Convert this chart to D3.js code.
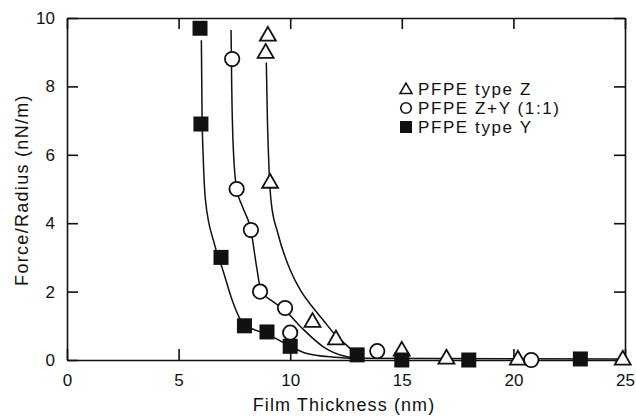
<!DOCTYPE html>
<html>
<head>
  <meta charset="utf-8">
  <title>Force/Radius vs Film Thickness</title>
  <script src="https://d3js.org/d3.v7.min.js"></script>
  <style>
    body { margin: 0; background: #fff; }
    text { font-family: "Liberation Sans", Arial, Helvetica, sans-serif; fill: #111; }
  </style>
</head>
<body>
  <div id="chart"></div>

  <script>
    // ticks
    var xTicks = [0, 5, 10, 15, 20, 25];
    var yTicks = [0, 2, 4, 6, 8, 10];

    // legend names
    var seriesNames = ['PFPE type Z', 'PFPE Z+Y (1:1)', 'PFPE type Y'];

    // measured points [thickness nm, force/radius nN/m]
    var typeZ = [[9.0, 9.5], [8.9, 9.0], [9.1, 5.2], [11.0, 1.13], [12.05, 0.62],
                 [15.0, 0.29], [17.0, 0.06], [20.2, 0.03], [24.9, 0.03]];
    var typeZY = [[7.4, 8.8], [7.6, 5.0], [8.24, 3.8], [8.65, 2.0], [9.77, 1.52],
                  [10.0, 0.8], [13.9, 0.26], [20.8, 0.0]];
    var typeY = [[5.96, 9.7], [6.0, 6.9], [6.9, 3.0], [7.95, 1.0], [8.96, 0.82],
                 [10.0, 0.4], [13.0, 0.15], [15.0, 0.0], [18.0, 0.0], [23.0, 0.03]];

    // hand-drawn fit lines
    var fitZ = [[8.93, 8.7], [8.98, 7.0], [9.05, 5.6], [9.15, 4.6], [9.45, 3.7], [10.0, 2.63],
                [10.45, 2.05], [11.0, 1.55], [11.5, 1.15], [12.0, 0.75], [12.5, 0.45], [13.0, 0.15]];
    var fitZY = [[7.35, 9.65], [7.38, 8.0], [7.45, 6.2], [7.6, 5.0], [7.85, 4.5], [8.24, 3.8],
                 [8.5, 2.7], [8.7, 2.0], [9.2, 1.72], [9.77, 1.45], [10.5, 0.95], [11.5, 0.38],
                 [12.5, 0.1], [13.0, 0.05]];
    var fitY = [[6.02, 9.35], [6.05, 7.2], [6.1, 6.0], [6.2, 4.7], [6.6, 3.4], [6.95, 2.7],
                [7.4, 1.75], [7.8, 1.15], [8.2, 0.95], [9.0, 0.75], [10.0, 0.4], [10.7, 0.2],
                [12.0, 0.08], [13.0, 0.04]];
    var tail = [[13.0, 0.05], [25.0, 0.03]];

    var width = 636, height = 418;
    var margin = { top: 18, right: 11, bottom: 58, left: 67 };
    var w = width - margin.left - margin.right;
    var h = height - margin.top - margin.bottom;

    var svg = d3.select('#chart').append('svg')
      .attr('width', width)
      .attr('height', height);

    var g = svg.append('g')
      .attr('transform', 'translate(' + margin.left + ',' + margin.top + ')');

    var x = d3.scaleLinear().domain([0, 25]).range([0, w]);
    var y = d3.scaleLinear().domain([0, 10]).range([h, 0]);

    var tick = 11;

    // axes, ticks pointing inward on all four sides
    g.append('g').attr('transform', 'translate(0,' + h + ')')
      .call(d3.axisBottom(x).tickValues(xTicks).tickSizeInner(-tick).tickSizeOuter(0).tickPadding(14));
    g.append('g')
      .call(d3.axisLeft(y).tickValues(yTicks).tickSizeInner(-tick).tickSizeOuter(0).tickPadding(12));
    g.append('g')
      .call(d3.axisTop(x).tickValues(xTicks).tickSizeInner(-tick).tickSizeOuter(0).tickFormat(''));
    g.append('g').attr('transform', 'translate(' + w + ',0)')
      .call(d3.axisRight(y).tickValues(yTicks).tickSizeInner(-tick).tickSizeOuter(0).tickFormat(''));

    g.selectAll('.domain').attr('stroke', '#111').attr('stroke-width', 1.6);
    g.selectAll('.tick line').attr('stroke', '#111').attr('stroke-width', 1.6);
    g.selectAll('.tick text').style('font-size', '17px').attr('fill', '#111');

    // axis titles
    svg.append('text')
      .attr('x', margin.left + w / 2 - 2)
      .attr('y', 411)
      .attr('text-anchor', 'middle')
      .style('font-size', '18px')
      .style('letter-spacing', '1.1px')
      .text('Film Thickness (nm)');

    svg.append('text')
      .attr('transform', 'translate(28,' + (margin.top + h / 2 + 1) + ') rotate(-90)')
      .attr('text-anchor', 'middle')
      .style('font-size', '18px')
      .style('letter-spacing', '1.3px')
      .text('Force/Radius (nN/m)');

    // fit lines
    var line = d3.line()
      .x(function (d) { return x(d[0]); })
      .y(function (d) { return y(d[1]); })
      .curve(d3.curveMonotoneX);

    [fitZ, fitZY, fitY, tail].forEach(function (f) {
      g.append('path')
        .datum(f)
        .attr('d', line)
        .attr('fill', 'none')
        .attr('stroke', '#111')
        .attr('stroke-width', 1.5);
    });

    // markers
    var tri = d3.symbol().type(d3.symbolTriangle).size(110);
    var triSmall = d3.symbol().type(d3.symbolTriangle).size(62);

    g.selectAll('.ptZ')
      .data(typeZ)
      .enter()
      .append('path')
        .attr('class', 'ptZ')
        .attr('d', tri)
        .attr('transform', function (d) { return 'translate(' + x(d[0]) + ',' + (y(d[1]) + 1) + ')'; })
        .attr('fill', '#fff')
        .attr('stroke', '#111')
        .attr('stroke-width', 1.8);

    g.selectAll('.ptZY')
      .data(typeZY)
      .enter()
      .append('circle')
        .attr('class', 'ptZY')
        .attr('cx', function (d) { return x(d[0]); })
        .attr('cy', function (d) { return y(d[1]); })
        .attr('r', 7.2)
        .attr('fill', '#fff')
        .attr('stroke', '#111')
        .attr('stroke-width', 1.8);

    g.selectAll('.ptY')
      .data(typeY)
      .enter()
      .append('rect')
        .attr('class', 'ptY')
        .attr('x', function (d) { return x(d[0]) - 7.5; })
        .attr('y', function (d) { return y(d[1]) - 7.5; })
        .attr('width', 15)
        .attr('height', 15)
        .attr('fill', '#111');

    // legend
    var lg = svg.append('g').attr('transform', 'translate(406,89)');
    var rowH = 19;

    lg.append('path').attr('d', triSmall)
      .attr('transform', 'translate(0,1)')
      .attr('fill', '#fff').attr('stroke', '#111').attr('stroke-width', 1.6);
    lg.append('circle').attr('cx', 0).attr('cy', rowH).attr('r', 5.3)
      .attr('fill', '#fff').attr('stroke', '#111').attr('stroke-width', 1.6);
    lg.append('rect').attr('x', -6).attr('y', 2 * rowH - 6).attr('width', 12).attr('height', 12)
      .attr('fill', '#111');

    lg.selectAll('.lgText')
      .data(seriesNames)
      .enter()
      .append('text')
        .attr('class', 'lgText')
        .attr('x', 12)
        .attr('y', function (d, i) { return i * rowH; })
        .attr('dy', '0.36em')
        .style('font-size', '17px')
        .style('letter-spacing', '1.6px')
        .text(function (d) { return d; });
  </script>
</body>
</html>
